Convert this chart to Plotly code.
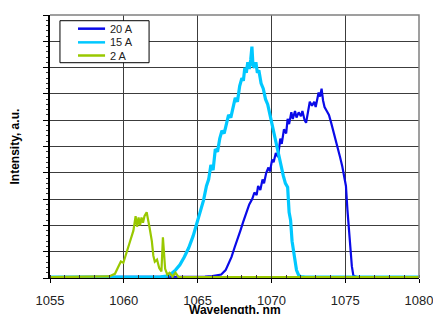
import plotly.graph_objects as go

# ---- data ----
wl20 = [1055, 1060, 1064, 1065.5, 1066.0, 1066.3, 1066.6, 1066.9, 1067.1, 1067.3,
        1067.5, 1067.7, 1067.9, 1068.1, 1068.3, 1068.5, 1068.7, 1068.85, 1069.0, 1069.1,
        1069.25, 1069.4, 1069.5, 1069.65, 1069.8, 1069.9, 1070.05, 1070.15, 1070.3, 1070.45,
        1070.6, 1070.7, 1070.85, 1071.0, 1071.1, 1071.2, 1071.35, 1071.45, 1071.6, 1071.7,
        1071.85, 1072.0, 1072.1, 1072.25, 1072.35, 1072.5, 1072.6, 1072.75, 1072.9, 1073.0,
        1073.1, 1073.2, 1073.3, 1073.4, 1073.5, 1073.6, 1073.75, 1073.9, 1074.05, 1074.2,
        1074.35, 1074.5, 1074.65, 1074.8, 1074.95, 1075.05, 1075.15, 1075.25, 1075.35, 1075.45,
        1075.55, 1075.7, 1075.9, 1076.5, 1080]
int20 = [0.03, 0.03, 0.04, 0.05, 0.07, 0.09, 0.13, 0.3, 0.55, 0.8,
         1.15, 1.45, 1.8, 2.15, 2.5, 2.8, 3.0, 3.25, 3.15, 3.5,
         3.35, 3.75, 3.6, 4.0, 4.2, 4.05, 4.5, 4.4, 4.75, 4.6,
         5.3, 5.1, 5.65, 5.5, 6.05, 5.85, 6.3, 6.05, 6.35, 6.1,
         6.3, 6.15, 6.35, 6.0, 5.9, 6.3, 6.7, 6.55, 6.7, 6.5,
         6.85, 7.05, 6.9, 7.2, 6.75, 6.5, 6.35, 6.2, 5.9, 5.6,
         5.25, 4.9, 4.6, 4.25, 3.85, 3.5, 2.6, 1.8, 1.0, 0.45,
         0.1, 0.05, 0.03, 0.03, 0.03]

wl15 = [1055, 1061, 1062.5, 1062.9, 1063.2, 1063.5, 1063.8, 1064.1, 1064.4, 1064.7,
        1065.0, 1065.2, 1065.4, 1065.6, 1065.75, 1065.9, 1066.05, 1066.2, 1066.35, 1066.5,
        1066.65, 1066.8, 1066.95, 1067.1, 1067.25, 1067.4, 1067.55, 1067.7, 1067.85, 1068.0,
        1068.1, 1068.2, 1068.3, 1068.4, 1068.5, 1068.6, 1068.68, 1068.75, 1068.85, 1068.95,
        1069.05, 1069.15, 1069.3, 1069.45, 1069.6, 1069.75, 1069.9, 1070.05, 1070.2, 1070.35,
        1070.5, 1070.65, 1070.8, 1070.95, 1071.1, 1071.2, 1071.3, 1071.4, 1071.5, 1071.6,
        1071.7, 1071.85, 1072.0, 1072.3, 1080]
int15 = [0.03, 0.03, 0.04, 0.07, 0.15, 0.3, 0.5, 0.8, 1.15, 1.6,
         2.2, 2.6, 2.95, 3.5, 3.75, 4.3, 4.1, 4.9, 4.8, 5.3,
         5.6, 5.5, 5.9, 6.2, 6.1, 6.5, 6.85, 6.7, 7.3, 7.6,
         7.5, 8.0, 7.8, 8.2, 7.95, 8.3, 8.8, 8.1, 8.0, 8.2,
         7.8, 7.9, 7.4, 7.2, 6.8, 6.6, 6.2, 5.8, 5.5, 5.0,
         4.7, 4.3, 3.9, 3.6, 3.45, 2.5, 2.2, 1.4, 1.0, 0.6,
         0.3, 0.1, 0.05, 0.03, 0.03]

wl2 = [1055, 1058.4, 1059.0, 1059.4, 1059.6, 1059.8, 1059.97, 1060.2, 1060.4, 1060.65,
       1060.8, 1060.9, 1061.0, 1061.1, 1061.2, 1061.3, 1061.4, 1061.55, 1061.65, 1061.75,
       1061.9, 1062.0, 1062.1, 1062.25, 1062.4, 1062.55, 1062.65, 1062.72, 1062.8, 1062.95,
       1063.1, 1063.3, 1063.5, 1063.7, 1080]
int2 = [0.03, 0.04, 0.06, 0.16, 0.4, 0.63, 0.58, 0.95, 1.35, 1.8,
        2.35, 1.95, 2.3, 2.0, 2.3, 2.1, 2.35, 2.5, 2.25, 1.9,
        1.4, 0.85, 0.62, 0.7, 0.38, 0.25, 1.55, 0.9, 0.35, 0.13,
        0.2, 0.05, 0.2, 0.04, 0.03]

series_names = ["20 A", "15 A", "2 A"]
series_colors = ["#0a0ae8", "#00c8ff", "#99c800"]
x_ticks = [1055, 1060, 1065, 1070, 1075, 1080]

FONT = "Liberation Sans, Arial, sans-serif"

fig = go.Figure()
for name, xs, ys, col, w in [
    (series_names[0], wl20, int20, series_colors[0], 2.2),
    (series_names[1], wl15, int15, series_colors[1], 3.2),
    (series_names[2], wl2, int2, series_colors[2], 2.2),
]:
    fig.add_trace(go.Scatter(x=xs, y=ys, mode="lines", name=name,
                             line=dict(color=col, width=w), showlegend=False))

# compact legend box (built from the series names/colours)
shapes = [dict(type="path", xref="paper", yref="paper",
               path="M 0 1 L 1 1 L 1 0", line=dict(color="#808080", width=1.5),
               layer="above"),
          dict(type="rect", xref="paper", yref="paper", x0=0.027, x1=0.2685,
               y0=0.8186, y1=0.9783, line=dict(color="black", width=1),
               fillcolor="white", layer="above")]
annotations = []
leg_y = [0.948, 0.896, 0.846]
for name, col, yy in zip(series_names, series_colors, leg_y):
    shapes.append(dict(type="line", xref="paper", yref="paper", x0=0.0759, x1=0.1492,
                       y0=yy, y1=yy, line=dict(color=col, width=2.5), layer="above"))
    annotations.append(dict(text=name, xref="paper", yref="paper", x=0.158, y=yy,
                            xanchor="left", yanchor="middle", showarrow=False,
                            font=dict(size=11, family=FONT, color="#222222")))

annotations += [
    dict(text="<b>Wavelength, nm</b>", xref="paper", yref="paper", x=0.5, y=0,
         xanchor="center", yanchor="top", yshift=-23, showarrow=False,
         font=dict(size=12, family=FONT, color="black")),
    dict(text="<b>Intensity, a.u.</b>", xref="paper", yref="paper", x=0, y=0.5,
         xanchor="center", yanchor="middle", xshift=-36, textangle=-90,
         showarrow=False, font=dict(size=12, family=FONT, color="black")),
]

fig.update_layout(
    width=433, height=306,
    margin=dict(l=42, r=22, t=7, b=36),
    paper_bgcolor="white", plot_bgcolor="white",
    font=dict(family=FONT, color="#222222"),
    showlegend=False,
    xaxis=dict(range=[1055, 1080], tickvals=x_ticks, ticktext=[str(v) for v in x_ticks],
               showgrid=True, gridcolor="#3c3c3c", gridwidth=1,
               showline=True, linecolor="black", linewidth=1,
               ticks="outside", ticklen=4, tickcolor="black",
               tickfont=dict(size=13, family=FONT, color="#222222"),
               ticklabelstandoff=6,
               minor=dict(dtick=1, ticks="inside", ticklen=3, tickcolor="#333333",
                          showgrid=False),
               zeroline=False, fixedrange=True, automargin=False),
    yaxis=dict(range=[0, 10], dtick=1, showticklabels=False,
               showgrid=True, gridcolor="#3c3c3c", gridwidth=1,
               showline=True, linecolor="black", linewidth=1.5,
               ticks="outside", ticklen=5, tickcolor="black",
               minor=dict(dtick=0.2, ticks="outside", ticklen=2, tickcolor="#333333",
                          showgrid=False),
               zeroline=False, fixedrange=True, automargin=False),
    shapes=shapes,
    annotations=annotations,
)

fig.write_html("out.html")
